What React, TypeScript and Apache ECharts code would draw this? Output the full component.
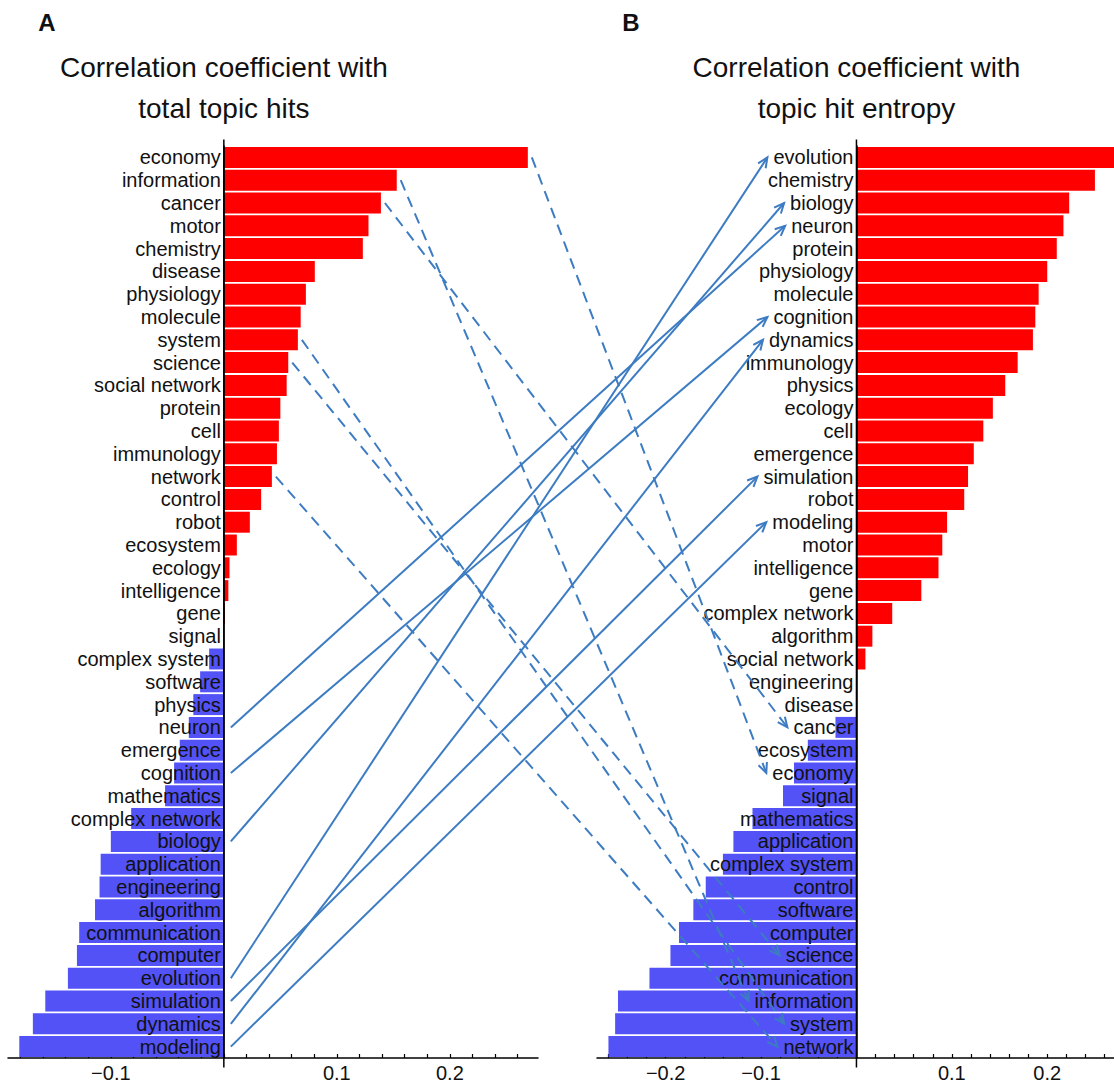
import React, { useEffect, useRef } from "react";
import * as echarts from "echarts";

const catA = [
  "economy", "information", "cancer", "motor", "chemistry", "disease", "physiology", "molecule",
  "system", "science", "social network", "protein", "cell", "immunology", "network", "control",
  "robot", "ecosystem", "ecology", "intelligence", "gene", "signal", "complex system", "software",
  "physics", "neuron", "emergence", "cognition", "mathematics", "complex network", "biology",
  "application", "engineering", "algorithm", "communication", "computer", "evolution",
  "simulation", "dynamics", "modeling",
];
const valA = [
  0.269, 0.153, 0.139, 0.128, 0.123, 0.0805, 0.0726, 0.068,
  0.0655, 0.057, 0.0556, 0.05, 0.0487, 0.047, 0.0425, 0.033,
  0.023, 0.0115, 0.005, 0.004, 0.001, 0.0, -0.013, -0.021,
  -0.027, -0.031, -0.039, -0.044, -0.052, -0.082, -0.1,
  -0.109, -0.11, -0.114, -0.128, -0.13, -0.138,
  -0.158, -0.169, -0.181,
];

const catB = [
  "evolution", "chemistry", "biology", "neuron", "protein", "physiology", "molecule", "cognition",
  "dynamics", "immunology", "physics", "ecology", "cell", "emergence", "simulation", "robot",
  "modeling", "motor", "intelligence", "gene", "complex network", "algorithm", "social network",
  "engineering", "disease", "cancer", "ecosystem", "economy", "signal", "mathematics",
  "application", "complex system", "control", "software", "computer", "science",
  "communication", "information", "system", "network",
];
const valB = [
  0.28, 0.25, 0.223, 0.217, 0.21, 0.2, 0.191, 0.1875,
  0.185, 0.169, 0.156, 0.143, 0.133, 0.123, 0.117, 0.113,
  0.095, 0.09, 0.086, 0.068, 0.0375, 0.0167, 0.0094,
  0.0, 0.0005, -0.022, -0.051, -0.0655, -0.077, -0.109,
  -0.129, -0.14, -0.158, -0.171, -0.186, -0.195,
  -0.217, -0.25, -0.253, -0.26,
];

const ticksA = [
  -0.18, -0.16, -0.14, -0.12, -0.1, -0.08, -0.06, -0.04, -0.02, 0,
  0.02, 0.04, 0.06, 0.08, 0.1, 0.12, 0.14, 0.16, 0.18, 0.2, 0.22, 0.24, 0.26,
];
const labelsA = [-0.1, 0.1, 0.2];
const ticksB = [
  -0.26, -0.24, -0.22, -0.2, -0.18, -0.16, -0.14, -0.12, -0.1, -0.08, -0.06, -0.04, -0.02, 0,
  0.02, 0.04, 0.06, 0.08, 0.1, 0.12, 0.14, 0.16, 0.18, 0.2, 0.22, 0.24, 0.26,
];
const labelsB = [-0.2, -0.1, 0.1, 0.2];

const solidLinks = ["neuron", "cognition", "biology", "evolution", "simulation", "dynamics", "modeling"];
const dashedLinks = ["economy", "information", "cancer", "system", "science", "network"];

const titleA = ["Correlation coefficient with", "total topic hits"];
const titleB = ["Correlation coefficient with", "topic hit entropy"];

const RED = "#ff0000";
const BLUE = "#5252f7";
const ARROW = "#3d7cc2";
const FONT = "Liberation Sans, Arial, Helvetica, sans-serif";
const LABEL_SIZE = 20;
const LABEL_MARGIN = 3;

const GRID_TOP = 146;
const GRID_H = 912;
const A_LEFT = 8, A_W = 530, A_MIN = -0.191, A_MAX = 0.278;
const B_LEFT = 597, B_W = 517, B_MIN = -0.272, B_MAX = 0.27;

function fmt(v: number) {
  const s = String(Math.round(Math.abs(v) * 100) / 100);
  return v < 0 ? "\u2212" + s : s;
}

function makeX(gridIndex: number, min: number, max: number, ticks: number[], labels: number[]) {
  return {
    type: "value",
    gridIndex,
    min,
    max,
    position: "bottom",
    axisLine: { show: true, onZero: false, lineStyle: { color: "#000", width: 1.5 } },
    axisTick: { show: true, inside: true, length: 4, customValues: ticks, lineStyle: { color: "#000", width: 1.2 } },
    axisLabel: {
      show: true,
      customValues: labels,
      formatter: (v: number) => fmt(v),
      color: "#111",
      fontSize: LABEL_SIZE,
      fontFamily: FONT,
      margin: 5,
    },
    splitLine: { show: false },
  };
}

function makeY(gridIndex: number, cats: string[], zeroOffset: number) {
  return {
    type: "category",
    gridIndex,
    data: cats,
    inverse: true,
    z: 10,
    position: "left",
    offset: -zeroOffset,
    axisLine: { show: true, onZero: false, lineStyle: { color: "#000", width: 1.5 } },
    axisTick: { show: false },
    axisLabel: {
      interval: 0,
      color: "#111",
      fontSize: LABEL_SIZE,
      fontFamily: FONT,
      margin: LABEL_MARGIN,
    },
  };
}

function makeBars(i: number, vals: number[]) {
  return {
    type: "bar",
    xAxisIndex: i,
    yAxisIndex: i,
    data: vals,
    barCategoryGap: "8%",
    itemStyle: {
      color: (p: any) => (p.value >= 0 ? RED : BLUE),
    },
    clip: true,
  };
}

export default function App() {
  const ref = useRef<HTMLDivElement>(null);
  useEffect(() => {
    if (!ref.current) return;
    const chart = echarts.init(ref.current, undefined, { renderer: "svg" });
    const offA = (A_W * -A_MIN) / (A_MAX - A_MIN);
    const offB = (B_W * -B_MIN) / (B_MAX - B_MIN);
    chart.setOption({
      animation: false,
      backgroundColor: "#ffffff",
      grid: [
        { left: A_LEFT, width: A_W, top: GRID_TOP, height: GRID_H, containLabel: false, outerBoundsMode: "none" },
        { left: B_LEFT, width: B_W, top: GRID_TOP, height: GRID_H, containLabel: false, outerBoundsMode: "none" },
      ],
      xAxis: [makeX(0, A_MIN, A_MAX, ticksA, labelsA), makeX(1, B_MIN, B_MAX, ticksB, labelsB)],
      yAxis: [makeY(0, catA, offA), makeY(1, catB, offB)],
      series: [makeBars(0, valA), makeBars(1, valB)],
    });

    const canvas = document.createElement("canvas");
    const ctx = canvas.getContext("2d")!;
    ctx.font = `${LABEL_SIZE}px ${FONT}`;

    const px = (g: number, v: number, idx: number) =>
      chart.convertToPixel({ xAxisIndex: g, yAxisIndex: g } as any, [v, idx]) as number[];

    const graphics: any[] = [];
    const zeroA = px(0, 0, 0)[0];
    const zeroB = px(1, 0, 0)[0];
    const topY = px(0, 0, 0)[1];
    const botY = px(0, 0, catA.length - 1)[1];

    graphics.push({ type: "text", x: 47, y: 22, style: { text: "A", font: `bold 24px ${FONT}`, fill: "#111", textAlign: "center", textVerticalAlign: "middle" } });
    graphics.push({ type: "text", x: 631, y: 22, style: { text: "B", font: `bold 24px ${FONT}`, fill: "#111", textAlign: "center", textVerticalAlign: "middle" } });
    [[titleA, zeroA], [titleB, zeroB]].forEach(([lines, cx]: any) => {
      lines.forEach((t: string, k: number) => {
        graphics.push({
          type: "text", x: cx, y: 67 + k * 41,
          style: { text: t, font: `28px ${FONT}`, fill: "#111", textAlign: "center", textVerticalAlign: "middle" },
        });
      });
    });
    [zeroA, zeroB].forEach((zx) => {
      graphics.push({
        type: "line", z: 15,
        shape: { x1: zx, y1: topY - 18, x2: zx, y2: botY + 21 },
        style: { stroke: "#000", lineWidth: 1.5 },
      });
    });

    const arrow = (x1: number, y1: number, x2: number, y2: number, dashed: boolean) => {
      graphics.push({
        type: "line", z: 20,
        shape: { x1, y1, x2, y2 },
        style: { stroke: ARROW, lineWidth: 2, lineDash: dashed ? [11, 7] : null },
      });
      const th = Math.atan2(y2 - y1, x2 - x1);
      const L = 11, a = 0.42;
      graphics.push({
        type: "polyline", z: 20,
        shape: {
          points: [
            [x2 - L * Math.cos(th - a), y2 - L * Math.sin(th - a)],
            [x2, y2],
            [x2 - L * Math.cos(th + a), y2 - L * Math.sin(th + a)],
          ],
        },
        style: { stroke: ARROW, lineWidth: 2, fill: null },
      });
    };

    const endOf = (name: string) => {
      const j = catB.indexOf(name);
      const p = px(1, 0, j);
      const w = ctx.measureText(name).width;
      return [zeroB - LABEL_MARGIN - w - 6, p[1]];
    };

    solidLinks.forEach((name) => {
      const i = catA.indexOf(name);
      const s = px(0, 0, i);
      const e = endOf(name);
      arrow(zeroA + 7, s[1], e[0], e[1], false);
    });
    dashedLinks.forEach((name) => {
      const i = catA.indexOf(name);
      const s = px(0, valA[i], i);
      const e = endOf(name);
      arrow(s[0] + 4, s[1], e[0], e[1], true);
    });

    chart.setOption({ graphic: graphics });
    return () => chart.dispose();
  }, []);
  return (
    <div
      ref={ref}
      style={{ position: "absolute", left: 0, top: 0, width: 1114, height: 1085, background: "#fff" }}
    />
  );
}
